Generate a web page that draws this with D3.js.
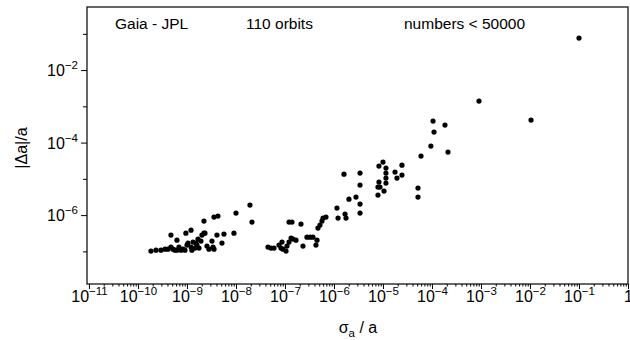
<!DOCTYPE html>
<html>
<head>
<meta charset="utf-8">
<script src="https://cdn.jsdelivr.net/npm/d3@7"></script>
<style>
  body { margin: 0; background: #fff; }
  text { font-family: "Liberation Sans", Arial, Helvetica, sans-serif; fill: #000; }
</style>
</head>
<body>
<div id="chart"></div>
<script>
// sigma_a / a  (x) and |delta a| / a  (y) for the 110 orbits
var sigmaA = [
  1.84e-10, 2.33e-10, 2.94e-10, 3.56e-10, 4.71e-10, 4.71e-10, 5.18e-10, 5.69e-10, 6.25e-10, 6.25e-10,
  6.87e-10, 7.55e-10, 8.28e-10, 9.5e-10, 1.0e-9, 1.05e-9, 1.21e-9, 1.21e-9, 1.26e-9, 1.33e-9,
  1.53e-9, 1.6e-9, 1.68e-9, 1.76e-9, 2.02e-9, 2.22e-9, 2.33e-9, 2.22e-9, 2.81e-9, 3.24e-9,
  3.4e-9, 3.56e-9, 3.56e-9, 4.09e-9, 4.29e-9, 5.18e-9, 5.69e-9, 9.1e-9, 1.0e-8, 1.93e-8,
  2.12e-8, 4.09e-10, 9.1e-10, 1.46e-9, 1.93e-9, 2.56e-9,
  4.5e-8, 5.18e-8, 5.97e-8, 7.55e-8, 8.28e-8, 8.69e-8, 9.1e-8, 1.05e-7, 1.1e-7, 1.21e-7,
  1.33e-7, 1.46e-7, 1.21e-7, 1.39e-7, 2.12e-7, 2.33e-7, 2.81e-7, 3.24e-7, 3.72e-7, 4.29e-7,
  4.5e-7, 4.71e-7, 5.18e-7, 5.69e-7, 5.97e-7, 6.87e-7,
  1.15e-6, 1.21e-6, 1.68e-6, 1.76e-6, 2.02e-6, 2.81e-6, 3.4e-6, 3.4e-6, 1.6e-6, 3.4e-6,
  3.4e-6, 7.9e-6, 7.9e-6, 8.28e-6, 8.28e-6, 1.0e-5, 1.05e-5, 1.15e-5, 1.15e-5, 1.15e-5,
  1.15e-5, 1.76e-5, 1.93e-5, 2.44e-5, 2.44e-5, 5.18e-5, 5.18e-5, 5.97e-5, 9.5e-5, 1.05e-4,
  1.1e-4, 1.84e-4, 2.12e-4, 9.1e-4, 1.05e-2, 0.1, 1.68e-7, 8.69e-6
];
var deltaA = [
  1.02e-7, 1.08e-7, 1.08e-7, 1.15e-7, 1.31e-7, 2.81e-7, 1.15e-7, 1.08e-7, 2.04e-7, 1.08e-7,
  1.31e-7, 1.08e-7, 1.15e-7, 3.18e-7, 1.49e-7, 1.69e-7, 3.85e-7, 1.31e-7, 1.08e-7, 1.8e-7,
  1.69e-7, 1.49e-7, 2.18e-7, 1.23e-7, 2.81e-7, 3.18e-7, 3.18e-7, 6.83e-7, 1.15e-7, 1.92e-7,
  1.31e-7, 1.15e-7, 8.81e-7, 2.81e-7, 9.38e-7, 1.69e-7, 2.99e-7, 3.18e-7, 1.14e-6, 1.89e-6,
  6.41e-7, 1.15e-7, 1.08e-7, 1.23e-7, 1.92e-7, 1.4e-7,
  1.31e-7, 1.23e-7, 1.23e-7, 1.49e-7, 1.23e-7, 1.8e-7, 1.15e-7, 1.02e-7, 1.4e-7, 1.8e-7,
  2.32e-7, 2.18e-7, 6.41e-7, 6.41e-7, 5.65e-7, 1.4e-7, 2.47e-7, 2.47e-7, 2.47e-7, 1.49e-7,
  2.04e-7, 4.38e-7, 5.3e-7, 6.83e-7, 8.26e-7, 8.81e-7,
  1.56e-6, 8.26e-7, 1.07e-6, 8.26e-7, 2.76e-6, 3.14e-6, 2.01e-6, 1.14e-6, 1.35e-5, 1.44e-5,
  6.72e-6, 3.56e-6, 5.92e-6, 8.13e-6, 2.25e-5, 2.9e-5, 4.59e-6, 1.98e-5, 1.44e-5, 1.05e-5,
  7.64e-6, 1.54e-5, 1.05e-5, 2.39e-5, 1.27e-5, 5.56e-6, 3.14e-6, 4.25e-5, 8.0e-5, 3.92e-4,
  1.95e-4, 3.04e-4, 5.47e-5, 1.4e-3, 4.18e-4, 7.64e-2, 2.04e-7, 5.92e-6
];

// Tick positions (decade exponents)
var xDecades = [-11, -10, -9, -8, -7, -6, -5, -4, -3, -2, -1, 0];
var yMajorExp = [-2, -4, -6];
var yMinorExp = [-1, -3, -5, -7];

// Texts
var topLabels = ["Gaia - JPL", "110 orbits", "numbers < 50000"];

// SVG area and plot frame
var svgWidth = 630;
var svgHeight = 340;
var frame = { left: 87, top: 7, right: 628, bottom: 284 };

var svg = d3.select("#chart")
  .append("svg")
  .attr("width", svgWidth)
  .attr("height", svgHeight);

// Log scales
var xScale = d3.scaleLog()
  .domain([Math.pow(10, -11.04), 1])
  .range([frame.left, frame.right]);

var yScale = d3.scaleLog()
  .domain([Math.pow(10, -7.9), Math.pow(10, -0.26)])
  .range([frame.bottom, frame.top]);

// Minor x ticks 2..9 in every decade
var xMinor = [];
xDecades.slice(0, -1).forEach(function(e) {
  for (var k = 2; k <= 9; k++) xMinor.push(k * Math.pow(10, e));
});

function expLabel(sel, e) {
  sel.text(null);
  if (e === 0) {
    sel.append("tspan").text("1");
    return;
  }
  sel.append("tspan").text("10");
  sel.append("tspan")
    .attr("font-size", 11.5)
    .attr("dy", -7)
    .text("\u2212" + Math.abs(e));
}

// X axis - minor ticks
svg.append("g")
  .attr("transform", `translate(0, ${frame.bottom})`)
  .call(d3.axisBottom(xScale).tickValues(xMinor).tickSize(2.5).tickFormat(""))
  .call(g => g.select(".domain").remove());

// X axis - major ticks with labels
var xAxisG = svg.append("g")
  .attr("transform", `translate(0, ${frame.bottom})`)
  .call(d3.axisBottom(xScale)
    .tickValues(xDecades.map(e => Math.pow(10, e)))
    .tickSize(5)
    .tickFormat(""))
  .call(g => g.select(".domain").remove());

xAxisG.selectAll(".tick text").each(function(d, i) {
  var t = d3.select(this)
    .attr("y", 18)
    .attr("dy", null)
    .attr("font-size", 16)
    .attr("text-anchor", "middle");
  expLabel(t, xDecades[i]);
});

// Y axis - minor ticks
svg.append("g")
  .attr("transform", `translate(${frame.left}, 0)`)
  .call(d3.axisLeft(yScale).tickValues(yMinorExp.map(e => Math.pow(10, e))).tickSize(4).tickFormat(""))
  .call(g => g.select(".domain").remove());

// Y axis - major ticks with labels
var yAxisG = svg.append("g")
  .attr("transform", `translate(${frame.left}, 0)`)
  .call(d3.axisLeft(yScale)
    .tickValues(yMajorExp.map(e => Math.pow(10, e)))
    .tickSize(6)
    .tickFormat(""))
  .call(g => g.select(".domain").remove());

yAxisG.selectAll(".tick text").each(function(d, i) {
  var t = d3.select(this)
    .attr("x", -9)
    .attr("dy", "0.36em")
    .attr("font-size", 16)
    .attr("text-anchor", "end");
  expLabel(t, yMajorExp[i]);
});

svg.selectAll(".tick line").attr("stroke", "#000").attr("stroke-width", 1);

// Frame
svg.append("rect")
  .attr("x", frame.left)
  .attr("y", frame.top)
  .attr("width", frame.right - frame.left)
  .attr("height", frame.bottom - frame.top)
  .attr("fill", "none")
  .attr("stroke", "#000")
  .attr("stroke-width", 1.2);

// Points
svg.append("g")
  .selectAll("circle")
  .data(sigmaA)
  .enter()
  .append("circle")
  .attr("cx", (d, i) => xScale(d))
  .attr("cy", (d, i) => yScale(deltaA[i]))
  .attr("r", 2.6)
  .attr("fill", "#000");

// Labels inside the frame
var topX = [115, 246, 404];
svg.selectAll(".top-label")
  .data(topLabels)
  .enter()
  .append("text")
  .attr("class", "top-label")
  .attr("x", (d, i) => topX[i])
  .attr("y", 29)
  .attr("font-size", 15.5)
  .text(d => d);

// X axis title
var xTitle = svg.append("text")
  .attr("x", 358)
  .attr("y", 333)
  .attr("text-anchor", "middle")
  .attr("font-size", 16);
xTitle.append("tspan").text("\u03c3");
xTitle.append("tspan").attr("font-size", 11.5).attr("dy", 4).text("a");
xTitle.append("tspan").attr("dy", -4).text(" / a");

// Y axis title
svg.append("text")
  .attr("transform", "translate(27, 148) rotate(-90)")
  .attr("text-anchor", "middle")
  .attr("font-size", 16)
  .text("|\u0394a|/a");
</script>
</body>
</html>
